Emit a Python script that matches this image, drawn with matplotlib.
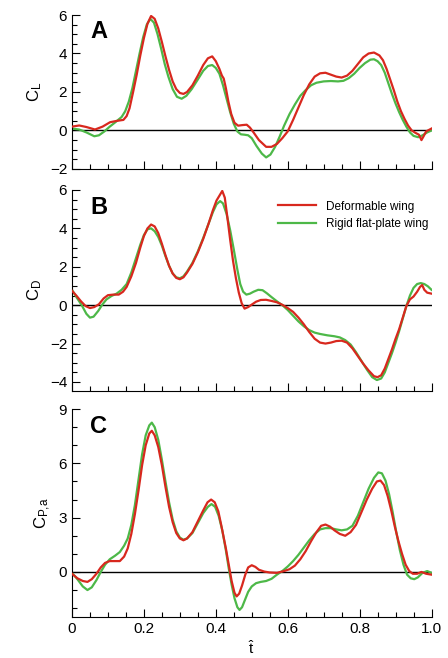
import numpy as np
import matplotlib.pyplot as plt
from matplotlib.ticker import MultipleLocator

plt.rcParams['font.family'] = ['Liberation Sans', 'DejaVu Sans']
plt.rcParams['mathtext.fontset'] = 'custom'
plt.rcParams['mathtext.rm'] = 'Liberation Sans'
plt.rcParams['mathtext.it'] = 'Liberation Sans'

# Panel A - lift coefficient
t_cl_def = [0, 0.02, 0.04, 0.064, 0.085, 0.106, 0.125, 0.143, 0.152, 0.16, 0.17, 0.18,
            0.19, 0.2, 0.21, 0.22, 0.23, 0.24, 0.25, 0.26, 0.27, 0.28, 0.29, 0.3,
            0.31, 0.32, 0.335, 0.35, 0.365, 0.378, 0.39, 0.4, 0.41, 0.417, 0.422, 0.428,
            0.435, 0.443, 0.452, 0.462, 0.474, 0.486, 0.495, 0.505, 0.52, 0.54, 0.555, 0.57,
            0.585, 0.6, 0.615, 0.63, 0.645, 0.66, 0.675, 0.69, 0.705, 0.72, 0.735, 0.75,
            0.765, 0.78, 0.795, 0.81, 0.825, 0.84, 0.855, 0.865, 0.875, 0.885, 0.895, 0.905,
            0.915, 0.925, 0.935, 0.945, 0.955, 0.965, 0.972, 0.978, 0.985, 1.0]
cl_def = [0.2, 0.26, 0.18, 0.05, 0.2, 0.43, 0.5, 0.55, 0.75, 1.15, 2.0, 2.9,
          3.9, 4.8, 5.55, 5.95, 5.8, 5.3, 4.6, 3.85, 3.15, 2.55, 2.15, 1.95,
          1.9, 2.0, 2.35, 2.85, 3.4, 3.75, 3.85, 3.6, 3.2, 2.85, 2.7, 2.2,
          1.5, 0.85, 0.4, 0.25, 0.28, 0.3, 0.15, -0.1, -0.5, -0.85, -0.85, -0.7,
          -0.4, -0.05, 0.55, 1.2, 1.85, 2.4, 2.8, 2.97, 3.0, 2.9, 2.8, 2.75,
          2.85, 3.1, 3.45, 3.8, 4.0, 4.05, 3.9, 3.65, 3.2, 2.65, 2.1, 1.5,
          1.0, 0.6, 0.25, 0.0, -0.12, -0.22, -0.5, -0.3, -0.05, 0.1]
t_cl_rig = [0, 0.02, 0.04, 0.062, 0.075, 0.09, 0.105, 0.12, 0.138, 0.148, 0.158, 0.168,
            0.178, 0.188, 0.198, 0.208, 0.218, 0.228, 0.238, 0.248, 0.258, 0.268, 0.28, 0.292,
            0.305, 0.318, 0.333, 0.35, 0.365, 0.378, 0.39, 0.4, 0.41, 0.42, 0.43, 0.44,
            0.45, 0.46, 0.47, 0.48, 0.49, 0.5, 0.513, 0.528, 0.54, 0.552, 0.565, 0.578,
            0.59, 0.605, 0.62, 0.635, 0.65, 0.665, 0.68, 0.7, 0.72, 0.74, 0.755, 0.77,
            0.785, 0.8, 0.815, 0.83, 0.84, 0.85, 0.86, 0.87, 0.88, 0.89, 0.9, 0.91,
            0.92, 0.93, 0.94, 0.95, 0.963, 0.975, 0.988, 1.0]
cl_rig = [0.1, 0.05, -0.1, -0.3, -0.25, -0.05, 0.2, 0.42, 0.7, 1.0, 1.5, 2.2,
          3.1, 4.0, 4.85, 5.5, 5.8, 5.6, 5.0, 4.25, 3.45, 2.8, 2.15, 1.75,
          1.65, 1.8, 2.15, 2.65, 3.1, 3.35, 3.4, 3.25, 2.95, 2.35, 1.65, 0.95,
          0.35, -0.05, -0.2, -0.22, -0.25, -0.4, -0.8, -1.2, -1.4, -1.25, -0.85, -0.3,
          0.25, 0.85, 1.35, 1.8, 2.1, 2.35, 2.48, 2.55, 2.57, 2.55, 2.58, 2.72,
          2.95, 3.25, 3.5, 3.68, 3.7, 3.6, 3.4, 3.0, 2.45, 1.9, 1.4, 0.95,
          0.55, 0.2, -0.1, -0.28, -0.35, -0.25, -0.1, 0.0]

# Panel B - drag coefficient
t_cd_def = [0, 0.012, 0.025, 0.038, 0.05, 0.062, 0.075, 0.088, 0.1, 0.115, 0.13, 0.142,
            0.152, 0.165, 0.178, 0.19, 0.2, 0.21, 0.22, 0.23, 0.24, 0.25, 0.26, 0.27,
            0.28, 0.29, 0.3, 0.31, 0.32, 0.335, 0.35, 0.365, 0.38, 0.392, 0.402, 0.41,
            0.418, 0.425, 0.432, 0.44, 0.448, 0.456, 0.464, 0.472, 0.48, 0.49, 0.5, 0.512,
            0.525, 0.54, 0.555, 0.57, 0.585, 0.6, 0.615, 0.63, 0.645, 0.66, 0.675, 0.69,
            0.705, 0.72, 0.735, 0.75, 0.765, 0.78, 0.795, 0.81, 0.825, 0.84, 0.85, 0.86,
            0.87, 0.88, 0.89, 0.9, 0.91, 0.92, 0.93, 0.94, 0.95, 0.96, 0.968, 0.974,
            0.98, 0.988, 1.0]
cd_def = [0.75, 0.5, 0.2, -0.05, -0.15, -0.1, 0.05, 0.35, 0.52, 0.55, 0.55, 0.7,
          0.95, 1.5, 2.2, 3.0, 3.6, 4.0, 4.2, 4.1, 3.75, 3.2, 2.6, 2.05,
          1.65, 1.42, 1.35, 1.45, 1.7, 2.15, 2.75, 3.45, 4.25, 4.95, 5.45, 5.7,
          5.95, 5.6, 4.6, 3.4, 2.3, 1.4, 0.65, 0.1, -0.18, -0.1, 0.03, 0.18,
          0.27, 0.28, 0.22, 0.15, 0.02, -0.15, -0.35, -0.65, -1.0, -1.4, -1.75, -1.95,
          -2.0, -1.95, -1.87, -1.85, -1.95, -2.25, -2.65, -3.05, -3.4, -3.7, -3.75, -3.65,
          -3.3, -2.8, -2.3, -1.75, -1.25, -0.65, -0.05, 0.3, 0.45, 0.7, 0.95, 1.05,
          0.8, 0.65, 0.6]
t_cd_rig = [0, 0.013, 0.027, 0.04, 0.05, 0.06, 0.073, 0.085, 0.096, 0.11, 0.124, 0.138,
            0.152, 0.165, 0.178, 0.19, 0.2, 0.21, 0.22, 0.23, 0.24, 0.25, 0.26, 0.27,
            0.28, 0.29, 0.3, 0.31, 0.32, 0.335, 0.35, 0.365, 0.38, 0.392, 0.402, 0.412,
            0.42, 0.43, 0.44, 0.45, 0.46, 0.468, 0.476, 0.485, 0.495, 0.505, 0.518, 0.53,
            0.542, 0.555, 0.57, 0.585, 0.6, 0.615, 0.63, 0.645, 0.66, 0.675, 0.69, 0.71,
            0.73, 0.745, 0.76, 0.775, 0.79, 0.805, 0.82, 0.835, 0.848, 0.86, 0.87, 0.88,
            0.89, 0.9, 0.91, 0.92, 0.93, 0.94, 0.95, 0.96, 0.97, 0.98, 0.99, 1.0]
cd_rig = [0.8, 0.4, 0.0, -0.45, -0.65, -0.6, -0.3, 0.05, 0.3, 0.48, 0.6, 0.8,
          1.1, 1.7, 2.45, 3.15, 3.65, 3.95, 4.0, 3.85, 3.55, 3.1, 2.55, 2.05,
          1.65, 1.45, 1.4, 1.5, 1.75, 2.2, 2.8, 3.5, 4.25, 4.85, 5.25, 5.42,
          5.3, 4.75, 3.9, 2.9, 1.85, 1.1, 0.7, 0.55, 0.6, 0.7, 0.8, 0.78,
          0.62, 0.42, 0.2, 0.0, -0.25, -0.55, -0.85, -1.1, -1.3, -1.43, -1.5, -1.57,
          -1.62, -1.68, -1.82, -2.05, -2.45, -2.9, -3.35, -3.75, -3.9, -3.82, -3.5, -3.0,
          -2.5, -1.95, -1.35, -0.7, -0.05, 0.5, 0.9, 1.1, 1.15, 1.1, 0.98, 0.8]

# Panel C - aerodynamic power coefficient
t_cp_def = [0, 0.015, 0.03, 0.043, 0.055, 0.068, 0.08, 0.092, 0.105, 0.12, 0.133, 0.145,
            0.155, 0.165, 0.175, 0.185, 0.195, 0.205, 0.215, 0.222, 0.23, 0.24, 0.25, 0.26,
            0.27, 0.28, 0.29, 0.3, 0.31, 0.32, 0.335, 0.35, 0.365, 0.377, 0.387, 0.397,
            0.407, 0.415, 0.42, 0.428, 0.436, 0.444, 0.452, 0.458, 0.465, 0.473, 0.482, 0.49,
            0.5, 0.51, 0.52, 0.535, 0.55, 0.57, 0.59, 0.605, 0.62, 0.635, 0.65, 0.665,
            0.68, 0.693, 0.705, 0.718, 0.73, 0.745, 0.76, 0.775, 0.79, 0.805, 0.82, 0.835,
            0.848, 0.858, 0.868, 0.878, 0.888, 0.898, 0.908, 0.918, 0.928, 0.938, 0.948, 0.96,
            0.972, 0.985, 1.0]
cp_def = [-0.1, -0.35, -0.5, -0.55, -0.4, -0.1, 0.25, 0.5, 0.6, 0.6, 0.6, 0.85,
          1.3, 2.1, 3.2, 4.5, 5.9, 7.0, 7.65, 7.8, 7.55, 6.9, 5.9, 4.7,
          3.6, 2.75, 2.15, 1.85, 1.75, 1.85, 2.2, 2.8, 3.4, 3.85, 4.0, 3.85,
          3.35, 2.6, 2.1, 1.3, 0.4, -0.5, -1.15, -1.35, -1.2, -0.75, -0.15, 0.25,
          0.37, 0.28, 0.12, 0.02, -0.03, -0.05, 0.05, 0.15, 0.35, 0.7, 1.15, 1.7,
          2.2, 2.55, 2.62, 2.5, 2.3, 2.1, 2.0, 2.2, 2.6, 3.3, 4.0, 4.6,
          5.0, 5.05, 4.8, 4.2, 3.4, 2.5, 1.7, 1.0, 0.4, 0.05, -0.1, -0.1,
          0.0, -0.1, -0.15]
t_cp_rig = [0, 0.015, 0.03, 0.043, 0.055, 0.068, 0.08, 0.092, 0.105, 0.12, 0.133, 0.145,
            0.155, 0.165, 0.175, 0.185, 0.195, 0.205, 0.215, 0.222, 0.23, 0.24, 0.25, 0.26,
            0.27, 0.28, 0.29, 0.3, 0.31, 0.32, 0.335, 0.35, 0.365, 0.378, 0.388, 0.398,
            0.408, 0.418, 0.428, 0.436, 0.444, 0.452, 0.46, 0.466, 0.473, 0.481, 0.49, 0.5,
            0.512, 0.525, 0.54, 0.555, 0.57, 0.585, 0.6, 0.615, 0.63, 0.645, 0.66, 0.675,
            0.69, 0.705, 0.72, 0.735, 0.75, 0.765, 0.78, 0.795, 0.81, 0.825, 0.84, 0.852,
            0.862, 0.872, 0.882, 0.892, 0.902, 0.912, 0.922, 0.932, 0.942, 0.952, 0.962, 0.975,
            0.988, 1.0]
cp_rig = [-0.05, -0.4, -0.8, -1.0, -0.85, -0.45, 0.0, 0.4, 0.7, 0.9, 1.1, 1.45,
          1.85, 2.6, 3.7, 5.1, 6.5, 7.55, 8.1, 8.25, 8.0, 7.3, 6.2, 5.0,
          3.85, 2.9, 2.25, 1.9, 1.78, 1.85, 2.15, 2.7, 3.25, 3.6, 3.75, 3.6,
          3.1, 2.3, 1.2, 0.2, -0.7, -1.45, -1.95, -2.1, -1.95, -1.55, -1.1, -0.8,
          -0.62, -0.55, -0.5, -0.38, -0.15, 0.05, 0.3, 0.6, 0.95, 1.35, 1.75, 2.1,
          2.35, 2.42, 2.42, 2.35, 2.3, 2.35, 2.55, 3.1, 3.85, 4.6, 5.2, 5.5,
          5.45, 5.05, 4.3, 3.3, 2.2, 1.2, 0.4, -0.15, -0.35, -0.4, -0.3, -0.05,
          0.05, -0.05]

red = '#d8281e'
green = '#4db848'

fig = plt.figure(figsize=(4.48, 6.58), dpi=100)

panels = [
    # (rect, letter, ylabel, ylim, major, minor, t_def, y_def, t_rig, y_rig)
    ([0.1607, 0.7432, 0.8025, 0.234], 'A', r'$\mathrm{C_L}$', (-2, 6), 2, 0.5,
     t_cl_def, cl_def, t_cl_rig, cl_rig),
    ([0.1607, 0.4058, 0.8025, 0.3055], 'B', r'$\mathrm{C_D}$', (-4.47, 6), 2, 0.5,
     t_cd_def, cd_def, t_cd_rig, cd_rig),
    ([0.1607, 0.0623, 0.8025, 0.316], 'C', r'$\mathrm{C_{P{,}a}}$', (-2.49, 9), 3, 1,
     t_cp_def, cp_def, t_cp_rig, cp_rig),
]

axes = []
for rect, letter, ylab, ylim, major, minor, td, yd, tr, yr in panels:
    ax = fig.add_axes(rect)
    ax.axhline(0, color='black', lw=1.0, zorder=1)
    ax.plot(td, yd, color=red, lw=1.6, label='Deformable wing', zorder=3)
    ax.plot(tr, yr, color=green, lw=1.6, label='Rigid flat-plate wing', zorder=2)
    ax.set_xlim(0, 1)
    ax.set_ylim(*ylim)
    ax.spines['top'].set_visible(False)
    ax.spines['right'].set_visible(False)
    ax.xaxis.set_major_locator(MultipleLocator(0.2))
    ax.xaxis.set_minor_locator(MultipleLocator(0.05))
    ax.yaxis.set_major_locator(MultipleLocator(major))
    ax.yaxis.set_minor_locator(MultipleLocator(minor))
    ax.tick_params(which='both', direction='in', labelsize=11, width=0.8)
    ax.tick_params(which='major', length=6)
    ax.tick_params(which='minor', length=3.5)
    ax.set_ylabel(ylab, fontsize=12, labelpad=4)
    ax.text(0.05, 0.97, letter, transform=ax.transAxes, fontsize=17,
            fontweight='bold', va='top', ha='left')
    axes.append(ax)

axes[0].tick_params(labelbottom=False)
axes[1].tick_params(labelbottom=False)
axes[1].legend(loc='upper right', bbox_to_anchor=(1.02, 1.0), frameon=False,
               fontsize=8.5, handlelength=3.2)
axes[2].xaxis.set_major_formatter(plt.FuncFormatter(lambda v, p: '0' if v == 0 else f'{v:.1f}'))
axes[2].set_xlabel(r'$\hat{\mathrm{t}}$', fontsize=11, labelpad=2)

fig.savefig('out.png', dpi=100)
